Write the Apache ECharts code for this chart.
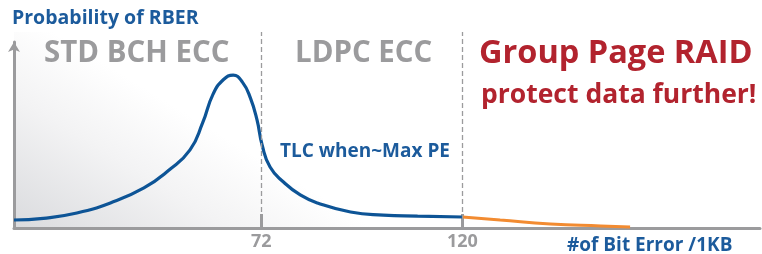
<!DOCTYPE html>
<html>
<head>
<meta charset="utf-8">
<script src="https://cdn.jsdelivr.net/npm/echarts@6/dist/echarts.min.js"></script>
<style>html,body{margin:0;padding:0;background:#fff}#c{width:762px;height:254px}</style>
</head>
<body>
<div id="c"></div>
<script>
// ---- data ----
const blueX = [13, 20, 28, 36, 44, 50, 55, 58, 60.5, 63, 65.3, 67.5, 69.4, 71, 72.2, 74.1, 77.3, 81.3, 85.4, 93.3, 101.1, 109.3, 120];
const blueY = [4.2, 5.1, 7.9, 13.2, 21.1, 30.5, 41.1, 55.3, 70.5, 78.2, 80.5, 76.8, 68.5, 56.8, 43.7, 32.1, 24.2, 17.4, 13.2, 8.4, 6.8, 6.3, 5.8];
const orangeX = [120, 129, 141, 153, 160];
const orangeY = [5.8, 4.2, 2.1, 1.05, 0.5];
const tickValues = [72, 120];
const regionLabels = ['STD BCH ECC', 'LDPC ECC'];
const yTitle = 'Probability of RBER';
const xTitle = '#of Bit Error /1KB';
const curveLabel = 'TLC when~Max PE';
const raidLines = ['Group Page RAID', 'protect data further!'];

const F = '"Open Sans", "DejaVu Sans", sans-serif';
const GRAY = '#9b9b9d';
const BLUE_T = '#1c5b9c';
const BLUE_L = '#0d5496';
const RED = '#b2232e';
const ORANGE = '#f28b31';

const chart = echarts.init(document.getElementById('c'), null, {renderer: 'canvas'});

const pairs = (xs, ys) => xs.map((x, i) => [x, ys[i]]);

chart.setOption({
  animation: false,
  grid: [
    {
      left: 14, right: 2, top: 32, bottom: 26, show: true, borderWidth: 0,
      backgroundColor: {
        type: 'linear', x: 14, y: 228, x2: 112, y2: 68, global: true,
        colorStops: [{offset: 0, color: '#dadbde'}, {offset: 0.6, color: '#f3f3f4'}, {offset: 1, color: '#ffffff'}]
      }
    },
    {left: 14, right: 2, top: 42, bottom: 26}
  ],
  xAxis: [
    {
      type: 'value', gridIndex: 0, min: 13, max: 191,
      splitLine: {show: false},
      axisLine: {show: true, lineStyle: {color: GRAY, width: 3}},
      axisTick: {show: true, inside: true, length: 14, customValues: tickValues, lineStyle: {color: GRAY, width: 3}},
      axisLabel: {show: true, customValues: tickValues, color: GRAY, fontSize: 18, fontWeight: 'bold', fontFamily: F, margin: 5}
    },
    {type: 'value', gridIndex: 1, min: 13, max: 191, show: false}
  ],
  yAxis: [
    {type: 'value', gridIndex: 0, min: 0, max: 103.2, show: false},
    {
      type: 'value', gridIndex: 1, min: 0, max: 100,
      splitLine: {show: false}, axisTick: {show: false}, axisLabel: {show: false},
      axisLine: {show: true, symbol: ['none', 'arrow'], symbolSize: [9, 10], lineStyle: {color: GRAY, width: 3}}
    }
  ],
  series: [
    {
      type: 'line', xAxisIndex: 0, yAxisIndex: 0, data: pairs(blueX, blueY),
      smooth: 0.5, showSymbol: false, symbol: 'none',
      lineStyle: {color: BLUE_L, width: 3.2},
      markLine: {
        silent: true, symbol: 'none', label: {show: false},
        lineStyle: {color: GRAY, type: [5, 3], width: 1.3},
        data: tickValues.map(v => ({xAxis: v}))
      },
      z: 3
    },
    {
      type: 'line', xAxisIndex: 0, yAxisIndex: 0, data: pairs(orangeX, orangeY),
      smooth: 0.5, showSymbol: false, symbol: 'none',
      lineStyle: {color: ORANGE, width: 3}, z: 3
    }
  ],
  graphic: [
    {type: 'text', left: 12, top: 8, style: {text: yTitle, font: 'bold 19.5px ' + F, fill: BLUE_T}},
    {type: 'text', x: 44, y: 53.5, scaleX: 0.95, style: {text: regionLabels[0], font: 'bold 31px ' + F, fill: GRAY, verticalAlign: 'middle'}},
    {type: 'text', x: 295, y: 53.5, scaleX: 0.95, style: {text: regionLabels[1], font: 'bold 31px ' + F, fill: GRAY, verticalAlign: 'middle'}},
    {type: 'text', x: 479, y: 53.5, style: {text: raidLines[0], font: 'bold 32.5px ' + F, fill: RED, verticalAlign: 'middle'}},
    {type: 'text', x: 481, y: 95.5, style: {text: raidLines[1], font: 'bold 26.5px ' + F, fill: RED, verticalAlign: 'middle'}},
    {type: 'text', x: 280, y: 151.5, style: {text: curveLabel, font: 'bold 19px ' + F, fill: BLUE_T, verticalAlign: 'middle'}},
    {type: 'text', x: 567, y: 245.5, style: {text: xTitle, font: 'bold 19px ' + F, fill: BLUE_T, verticalAlign: 'middle'}}
  ]
});
</script>
</body>
</html>
